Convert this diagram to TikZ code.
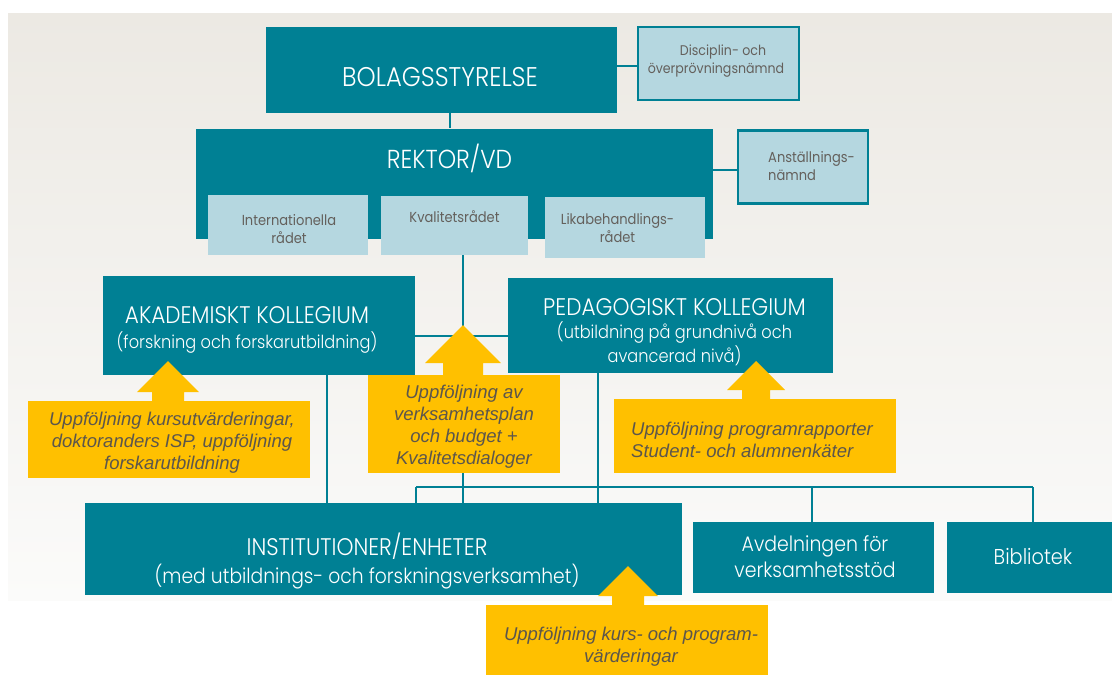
\documentclass[tikz,border=0pt]{standalone}
\usepackage{fontspec}
\setmainfont{Liberation Sans}
\IfFontExistsTF{Poppins Light}
  {\newfontfamily\fut[FakeStretch=0.9]{Poppins Light}}
  {\newfontfamily\fut[FakeStretch=0.9]{Poppins}}
\newfontfamily\futr[FakeStretch=0.9]{Poppins}
\definecolor{tealc}{RGB}{0,128,148}
\definecolor{lightc}{RGB}{181,215,224}
\definecolor{grayt}{RGB}{100,96,92}
\definecolor{yel}{RGB}{255,192,0}
\definecolor{ytext}{RGB}{92,86,76}
\definecolor{bgtop}{RGB}{236,233,227}
\definecolor{bgbot}{RGB}{251,251,250}
\tikzset{
  tbox/.style={fill=tealc, inner sep=0pt, draw=none},
  lbox/.style={fill=lightc, inner sep=0pt, draw=tealc, line width=2.5pt},
  lboxn/.style={fill=lightc, inner sep=0pt, draw=none},
  ybox/.style={fill=yel, inner sep=0pt, draw=none},
  ttext/.style={text=white, align=center, inner sep=0pt, font=\fut},
  ltext/.style={text=grayt, align=center, inner sep=0pt, font=\futr\fontsize{14.5}{18}\selectfont},
  ytxt/.style={text=ytext, align=center, inner sep=0pt, font=\itshape\fontsize{18.5}{22}\selectfont},
  conn/.style={draw=tealc, line width=2.5pt},
}
\newcommand{\yhead}[5]{% tip x, tip y, head base y, head half, shaft half
  \fill[yel] (#1-#5,#3+12) -- (#1-#5,#3) -- (#1-#4,#3) -- (#1,#2) -- (#1+#4,#3) -- (#1+#5,#3) -- (#1+#5,#3+12) -- cycle;}
\begin{document}
\begin{tikzpicture}[x=1pt,y=-1pt]
\useasboundingbox (0,0) rectangle (1112,675);
\fill[white] (0,0) rectangle (1112,675);
\shade[top color=bgtop, bottom color=bgbot] (8,13) rectangle (1112,600);

% helper coordinates
\coordinate (x327) at (327,0);
\coordinate (x416) at (416,0);
\coordinate (x450) at (450,0);
\coordinate (x463) at (463,0);
\coordinate (x598) at (598,0);
\coordinate (x812) at (812,0);
\coordinate (x1033) at (1033,0);
\coordinate (y66) at (0,66);
\coordinate (y170) at (0,170);
\coordinate (y336) at (0,336);
\coordinate (busL) at (416,487);
\coordinate (busR) at (1033,487);
\coordinate (akadEnd) at (327,533);

% boxes (geometry)
\node[tbox, minimum width=351pt, minimum height=86pt] (bolag) at (441.5,70) {};
\node[lbox, minimum width=161pt, minimum height=73pt] (disc) at (718.5,63.5) {};
\node[tbox, minimum width=517pt, minimum height=110pt] (rektor) at (454.5,183.5) {};
\node[lbox, minimum width=130pt, minimum height=73pt] (anst) at (803,167) {};
\node[lboxn, minimum width=160pt, minimum height=60pt] (intl) at (288,225) {};
\node[lboxn, minimum width=147pt, minimum height=59pt] (kval) at (454,225) {};
\node[lboxn, minimum width=160pt, minimum height=61pt] (lika) at (625,227.5) {};
\node[tbox, minimum width=312pt, minimum height=99pt] (akad) at (259,325.5) {};
\node[tbox, minimum width=325pt, minimum height=95pt] (ped) at (670.5,325.5) {};
\node[tbox, minimum width=597pt, minimum height=92pt] (inst) at (383.5,549) {};
\node[tbox, minimum width=241pt, minimum height=71pt] (avd) at (813.5,557.5) {};
\node[tbox, minimum width=165pt, minimum height=71pt] (bib) at (1029.5,557.5) {};

% connectors
\draw[conn] (bolag.east |- y66) -- (disc.west |- y66);
\draw[conn] (bolag.south -| x450) -- (rektor.north -| x450);
\draw[conn] (rektor.east |- y170) -- (anst.west |- y170);
\draw[conn] (akad.east |- y336) -- (ped.west |- y336);
\draw[conn] (kval.south -| x463) -- (inst.north -| x463);
\draw[conn] (ped.south -| x598) -- (inst.north -| x598);
\draw[conn] (busL) -- (busR);
\draw[conn] (busL) -- (inst.north -| x416);
\draw[conn] (busL -| x812) -- (avd.north -| x812);
\draw[conn] (busR) -- (bib.north -| x1033);
\draw[conn] (akad.south -| x327) -- (akadEnd);

% boxes again on top of the connector ends
\node[tbox, minimum width=351pt, minimum height=86pt] (bolag2) at (441.5,70) {};
\node[tbox, minimum width=517pt, minimum height=110pt] (rektor2) at (454.5,183.5) {};
\node[lboxn, minimum width=160pt, minimum height=60pt] (intl2) at (288,225) {};
\node[lboxn, minimum width=147pt, minimum height=59pt] (kval2) at (454,225) {};
\node[lboxn, minimum width=160pt, minimum height=61pt] (lika2) at (625,227.5) {};
\node[tbox, minimum width=312pt, minimum height=99pt] (akad2) at (259,325.5) {};
\node[tbox, minimum width=325pt, minimum height=95pt] (ped2) at (670.5,325.5) {};
\node[tbox, minimum width=597pt, minimum height=92pt] (inst2) at (383.5,549) {};
\draw[conn] (inst2.north -| x327) -- (akadEnd);

% texts
\node[ttext, font=\fut\fontsize{27}{30}\selectfont] (bolagT) at (440,77) {BOLAGSSTYRELSE};
\node[ttext, font=\fut\fontsize{26}{30}\selectfont] (rektorT) at (449.5,158) {REKTOR/VD};
\node[ltext, font=\futr\fontsize{14}{18}\selectfont] (discT) at (716,61) {\hspace*{14pt}Disciplin- och\\överprövningsnämnd};
\node[ltext, align=left, anchor=west] (anstT) at (768,166) {Anställnings-\\nämnd};
\node[ltext] (intlT) at (289,229) {Internationella\\rådet};
\node[ltext] (kvalT) at (454.5,217) {Kvalitetsrådet};
\node[ltext] (likaT) at (617.5,228) {Likabehandlings-\\rådet};
\node[ttext, font=\fut\fontsize{24}{25}\selectfont] (akadT) at (247,330)
  {AKADEMISKT KOLLEGIUM\\{\fontsize{18}{25}\selectfont(forskning och forskarutbildning)}};
\node[ttext, font=\fut\fontsize{18}{23.5}\selectfont] (pedT) at (674.5,332)
  {{\fontsize{24}{23.5}\selectfont PEDAGOGISKT KOLLEGIUM}\\(utbildning på grundnivå och\\avancerad nivå)};
\node[ttext, font=\fut\fontsize{20.8}{28}\selectfont] (instT) at (367,561)
  {{\fontsize{24}{28}\selectfont INSTITUTIONER/ENHETER}\\(med utbildnings- och forskningsverksamhet)};
\node[ttext, font=\fut\fontsize{21}{26}\selectfont] (avdT) at (815,557) {Avdelningen för\\verksamhetsstöd};
\node[ttext, font=\fut\fontsize{21.5}{26}\selectfont] (bibT) at (1033,556) {Bibliotek};

% yellow arrows
\yhead{168}{361}{392}{31}{16}
\node[ybox, minimum width=282pt, minimum height=77pt] (y1) at (169,439.5) {};
\node[ytxt] (y1T) at (172,443) {Uppföljning kursutvärderingar,\\doktoranders ISP, uppföljning\\forskarutbildning};
\yhead{463}{325}{363}{38}{20}
\node[ybox, minimum width=192pt, minimum height=98pt] (y2) at (464,424) {};
\node[ytxt] (y2T) at (464,427) {Uppföljning av\\verksamhetsplan\\och budget +\\Kvalitetsdialoger};
\yhead{756}{361}{390}{29}{14}
\node[ybox, minimum width=282pt, minimum height=74pt] (y3) at (755,436) {};
\node[ytxt, align=left, anchor=west] (y3T) at (631,440) {Uppföljning programrapporter\\Student- och alumnenkäter};
\yhead{628}{566}{596}{30}{16}
\node[ybox, minimum width=282pt, minimum height=70pt] (y4) at (627,640) {};
\node[ytxt] (y4T) at (631,647) {Uppföljning kurs- och program-\\värderingar};
\end{tikzpicture}
\end{document}
